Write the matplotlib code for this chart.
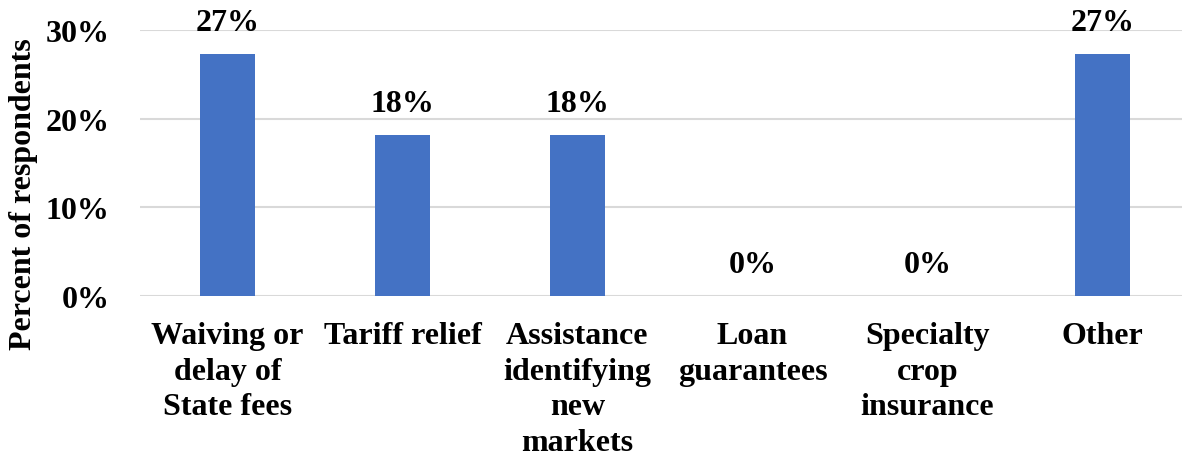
import matplotlib.pyplot as plt

categories = ["Waiving or\ndelay of\nState fees", "Tariff relief", "Assistance\nidentifying\nnew\nmarkets",
              "Loan\nguarantees", "Specialty\ncrop\ninsurance", "Other"]
values = [27.3, 18.2, 18.2, 0, 0, 27.3]
labels = ["27%", "18%", "18%", "0%", "0%", "27%"]
yticks = [0, 10, 20, 30]

plt.rcParams['font.family'] = ['Liberation Serif', 'DejaVu Serif']
plt.rcParams['font.weight'] = 'bold'

fig = plt.figure(figsize=(11.82, 4.6), dpi=100)
ax = fig.add_axes([140 / 1182, 163 / 460, 1042 / 1182, 266 / 460])

x = range(len(categories))
ax.bar(x, values, width=0.31, color='#4472C4', zorder=3)
for xi, v, lab in zip(x, values, labels):
    ax.text(xi, v + 1.9, lab, ha='center', va='bottom', fontsize=23, fontweight='bold', clip_on=False)

ax.set_xlim(-0.5, -0.5 + 1042 / 175)
ax.set_ylim(0, 30)
ax.set_yticks(yticks)
ax.set_yticklabels([f"{t}%" for t in yticks], fontsize=23, fontweight='bold')
ax.set_xticks(list(x))
ax.set_xticklabels(categories, fontsize=23, fontweight='bold', va='top', linespacing=1.3)
ax.tick_params(axis='both', length=0)
ax.tick_params(axis='x', pad=18)
ax.tick_params(axis='y', pad=22)
ax.grid(axis='y', color='#D9D9D9', linewidth=1.5, zorder=0)
for s in ax.spines.values():
    s.set_visible(False)
fig.text(24 / 1182, 1 - 194 / 460, "Percent of respondents", rotation=90, ha='center', va='center',
         fontsize=23, fontweight='bold')

fig.savefig("out.png", dpi=100)
